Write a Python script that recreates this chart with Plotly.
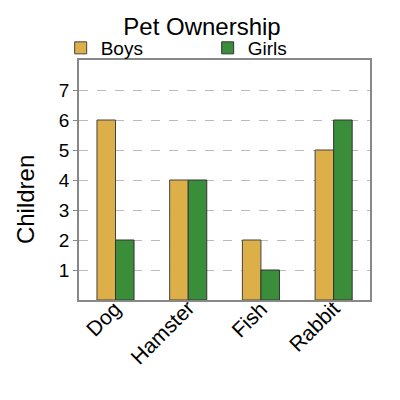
import plotly.graph_objects as go

pets = ["Dog", "Hamster", "Fish", "Rabbit"]
boys = [6, 4, 2, 5]
girls = [2, 4, 1, 6]
y_ticks = [1, 2, 3, 4, 5, 6, 7]

fig = go.Figure()
fig.add_trace(go.Bar(x=pets, y=boys, name="Boys",
                     marker=dict(color="#ddaf48", line=dict(color="#444444", width=1))))
fig.add_trace(go.Bar(x=pets, y=girls, name="Girls",
                     marker=dict(color="#3a8e3a", line=dict(color="#333333", width=1))))

# category labels as rotated annotations so they sit close to the axis
for pet in pets:
    fig.add_annotation(x=pet, y=0, xref="x", yref="paper", text=pet, showarrow=False,
                       textangle=-45, xanchor="right", yanchor="top",
                       xshift=13, yshift=6, font=dict(size=21))

# y title sits a bit below the plot centre in the reference
fig.add_annotation(x=-0.186, y=0.42, xref="paper", yref="paper", text="Children",
                   showarrow=False, textangle=-90, xanchor="center", yanchor="middle",
                   font=dict(size=24))

# page body adds ~8px offset, margins account for it
fig.update_layout(
    width=400, height=400,
    margin=dict(l=71, r=38, t=52, b=108, autoexpand=False),
    paper_bgcolor="white", plot_bgcolor="white",
    font=dict(family="Liberation Sans, Arial, sans-serif", color="black"),
    title=dict(text="Pet Ownership", x=0.485, xanchor="center", y=0.975, yanchor="top",
               font=dict(size=24)),
    barmode="group", bargap=0.49, bargroupgap=0,
    legend=dict(orientation="h", x=-0.063, xanchor="left", y=1.05, yanchor="middle",
                entrywidth=102, entrywidthmode="pixels",
                font=dict(size=19), itemwidth=30, tracegroupgap=0,
                bgcolor="rgba(0,0,0,0)"),
    showlegend=True,
)
fig.update_xaxes(showline=True, linecolor="#888888", linewidth=1.5, mirror=True,
                 showticklabels=False, ticks="", automargin=False)
fig.update_yaxes(range=[0, 8], tickvals=y_ticks, showline=True, linecolor="#888888",
                 linewidth=1.5, mirror=True, showgrid=True, gridcolor="#bbbbbb",
                 griddash="dash", gridwidth=1.2, tickfont=dict(size=19), zeroline=False,
                 ticks="outside", ticklen=4, tickcolor="#888888", automargin=False)

fig.write_html("out.html")
